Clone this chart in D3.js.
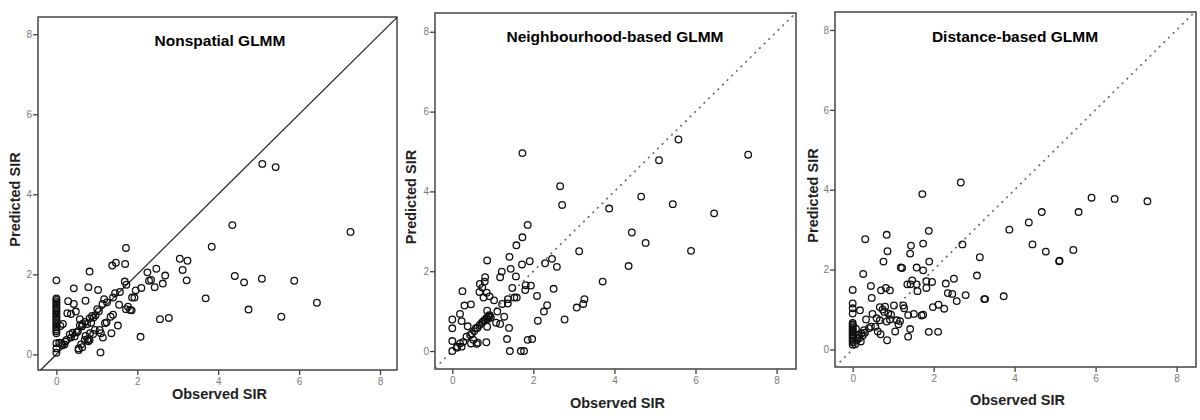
<!DOCTYPE html>
<html>
<head>
<meta charset="utf-8">
<script src="https://cdn.jsdelivr.net/npm/d3@7"></script>
<style>
  body { margin: 0; background: #fff; }
  svg { display: block; font-family: "Liberation Sans", Arial, sans-serif; }
</style>
</head>
<body>
<svg id="chart" width="1200" height="420"></svg>
<script>
// observed vs predicted SIR
const titles = ["Nonspatial GLMM", "Neighbourhood-based GLMM", "Distance-based GLMM"];
const xTicks = [0, 2, 4, 6, 8];
const yTicks = [0, 2, 4, 6, 8];
const xLabel = "Observed SIR";
const yLabel = "Predicted SIR";

const nonspatial = [
  [5.09,4.76],[5.42,4.68],[4.35,3.23],[7.27,3.06],[3.84,2.69],[1.72,2.66],[1.38,2.22],[1.47,2.29],
  [1.70,2.26],[3.05,2.39],[3.24,2.34],[3.12,2.11],[2.47,2.14],[2.25,2.05],[2.69,1.97],[0.82,2.07],
  [0,1.85],[1.69,1.82],[3.22,1.85],[2.29,1.84],[2.34,1.86],[4.41,1.96],[5.08,1.89],[4.64,1.80],
  [5.88,1.84],[2.63,1.77],[2.43,1.68],[2.10,1.66],[1.73,1.74],[0.79,1.68],[0.43,1.65],[1.03,1.61],
  [1.96,1.60],[1.57,1.56],[1.45,1.53],[1.40,1.42],[1.18,1.38],[1.87,1.42],[1.93,1.42],[3.69,1.40],
  [0.29,1.33],[0.72,1.34],[0.43,1.26],[1.14,1.26],[1.55,1.24],[1.77,1.19],[1.82,1.11],[1.72,1.13],
  [1.86,1.10],[6.44,1.29],[4.75,1.12],[1.01,1.13],[0.48,1.07],[0.27,1.03],[0.36,1.01],[5.56,0.94],
  [2.78,0.91],[2.56,0.88],[1.40,0.99],[1.34,0.94],[0.88,0.96],[0.82,0.90],[0.71,0.81],[0.58,0.88],
  [0.64,0.76],[0.58,0.73],[0.63,0.70],[0.76,0.76],[0.86,0.79],[1.20,0.78],[1.24,0.80],[1.52,0.72],
  [0.16,0.76],[0.10,0.71],[0.53,0.58],[0.40,0.54],[0.33,0.50],[0.95,0.61],[1.07,0.61],[1.10,0.53],
  [0.83,0.53],[0.91,0.51],[0.72,0.46],[0.77,0.38],[0.82,0.36],[0.79,0.33],[1.15,0.42],[1.36,0.53],
  [0.70,0.36],[2.08,0.44],[0.36,0.42],[0.25,0.36],[0.22,0.32],[0.12,0.28],[0.15,0.23],[0.07,0.29],
  [0.61,0.25],[0.55,0.15],[0.55,0.11],[0.64,0.18],[1.09,0.05],[0,0.28],[0,0.15],[0,0.04],
  [0.45,0.45],[0.50,0.55],[0.92,0.92],[0.97,0.98],[1.05,1.08],[1.25,1.30],[0.20,0.25],
  [0,0.53],[0,0.58],[0,0.62],[0,0.67],[0,0.71],[0,0.76],[0,0.80],[0,0.85],[0,0.89],[0,0.94],
  [0,0.99],[0,1.03],[0,1.08],[0,1.12],[0,1.17],[0,1.22],[0,1.27],[0,1.31],[0,1.36],[0,1.40]
];

const neighbourhood = [
  [5.58,5.30],[1.73,4.96],[7.30,4.92],[5.10,4.78],[2.66,4.13],[2.71,3.66],[4.66,3.87],[5.44,3.68],
  [6.46,3.45],[3.87,3.57],[1.86,3.16],[4.43,2.97],[1.73,2.85],[4.77,2.71],[1.58,2.65],[5.89,2.51],
  [3.13,2.50],[4.35,2.13],[0.86,2.27],[1.41,2.36],[2.46,2.31],[2.29,2.20],[1.91,2.25],[1.72,2.17],
  [2.58,2.11],[1.44,2.06],[1.22,1.99],[1.18,1.85],[1.57,1.87],[0.81,1.85],[0.80,1.74],[0.68,1.68],
  [1.81,1.65],[1.94,1.64],[3.71,1.74],[2.50,1.56],[1.48,1.58],[1.80,1.53],[0.74,1.59],[0.67,1.48],
  [0.25,1.50],[0.85,1.46],[0.92,1.37],[0.77,1.34],[1.53,1.34],[1.59,1.34],[1.37,1.30],[2.09,1.38],
  [1.03,1.27],[3.26,1.30],[3.23,1.18],[3.07,1.09],[2.34,1.15],[2.26,0.99],[1.23,1.18],[1.37,1.19],
  [0.30,1.14],[0.46,1.17],[1.11,0.99],[0.86,1.01],[0.19,0.93],[1.28,0.86],[0.91,0.90],[0,0.79],
  [0.23,0.75],[0.38,0.62],[2.11,0.76],[2.77,0.79],[1.18,0.68],[1.08,0.71],[1.40,0.58],[0,0.57],
  [0.86,0.61],[0.58,0.57],[0.67,0.65],[0.75,0.73],[0.81,0.78],[0.89,0.86],[0.93,0.88],[0.48,0.44],
  [0.44,0.40],[0.35,0.36],[0.27,0.23],[0.19,0.19],[0.12,0.11],[0.52,0.28],[0.60,0.18],[0,0.25],
  [1.35,0.30],[1.86,0.28],[1.97,0.30],[0.84,0.22],[0.63,0.21],[0.46,0.19],[0,0],[1.42,0],
  [1.69,0],[1.77,0],[0.23,0.11],[0.11,0.08],[0.72,0.70],[0.78,0.76],[0.84,0.82],[0.88,0.80],
  [0.95,0.84],[0.62,0.58],[0.54,0.50]
];

const distance = [
  [2.67,4.18],[1.72,3.89],[5.90,3.80],[6.47,3.77],[7.28,3.71],[4.67,3.44],[5.58,3.44],[4.35,3.18],
  [3.87,3.00],[1.88,2.97],[0.84,2.87],[0.31,2.76],[2.71,2.63],[1.74,2.65],[1.44,2.60],[4.44,2.63],
  [1.42,2.40],[0.86,2.46],[4.77,2.45],[5.45,2.49],[5.10,2.21],[5.11,2.22],[3.14,2.31],[0.76,2.20],
  [1.89,2.20],[1.19,2.05],[1.22,2.04],[1.58,2.05],[1.74,1.98],[0.26,1.89],[3.07,1.85],[2.50,1.77],
  [1.47,1.73],[1.82,1.71],[1.96,1.69],[2.30,1.65],[1.35,1.63],[1.43,1.63],[1.58,1.63],[0.45,1.59],
  [0.82,1.54],[0.70,1.48],[0.92,1.48],[1.82,1.54],[1.60,1.46],[0,1.49],[2.35,1.41],[2.46,1.39],
  [2.79,1.36],[3.73,1.33],[3.25,1.26],[3.27,1.26],[2.57,1.21],[0.47,1.29],[0,1.15],[0,1.03],
  [0,0.90],[0.18,0.98],[1.98,1.06],[2.12,1.12],[2.26,1.02],[1.02,1.10],[1.25,1.10],[1.27,1.03],
  [0.67,1.06],[0.80,1.07],[0.74,1.00],[0.78,0.94],[0.88,0.90],[0.95,0.87],[0.49,0.89],[1.37,0.86],
  [1.51,0.89],[1.74,0.87],[1.70,0.85],[0.33,0.75],[0.59,0.78],[0.67,0.73],[0.84,0.70],[0.92,0.75],
  [1.09,0.73],[1.17,0.71],[1.13,0.63],[0.45,0.57],[0.40,0.53],[0.56,0.57],[0.62,0.45],[0.69,0.38],
  [1.05,0.45],[1.42,0.51],[1.37,0.32],[1.88,0.44],[2.11,0.44],[0.85,0.23],[0.28,0.48],[0.22,0.40],
  [0.14,0.36],[0.16,0.28],[0.10,0.23],[0.06,0.13],[0.08,0.52],[0.12,0.30],[0.20,0.20],[0.25,0.35],
  [0.30,0.42],
  [0,0.12],[0,0.18],[0,0.22],[0,0.27],[0,0.31],[0,0.35],[0,0.38],[0,0.42],[0,0.46],[0,0.50],
  [0,0.54],[0,0.58],[0,0.62],[0,0.66]
];

const series = [nonspatial, neighbourhood, distance];

// panel frames (pixels) and the data window each one shows
const panels = [
  { left: 38,  right: 397,  top: 17, bottom: 370, xDom: [-0.455, 8.42], yDom: [-0.39, 8.43], dash: null,
    titleX: 220, titleY: 46, xLabY: 399, yLabX: 20 },
  { left: 435, right: 796,  top: 13, bottom: 369, xDom: [-0.427, 8.48], yDom: [-0.45, 8.47], dash: "2,4.5",
    titleX: 615, titleY: 42, xLabY: 408, yLabX: 416 },
  { left: 835, right: 1196, top: 12, bottom: 367, xDom: [-0.437, 8.48], yDom: [-0.44, 8.45], dash: "2,4.5",
    titleX: 1015, titleY: 42, xLabY: 405, yLabX: 818 }
];

const svg = d3.select("#chart");

panels.forEach((p, i) => {
  const x = d3.scaleLinear().domain(p.xDom).range([p.left, p.right]);
  const y = d3.scaleLinear().domain(p.yDom).range([p.bottom, p.top]);
  const g = svg.append("g");

  // frame
  g.append("rect")
    .attr("x", p.left).attr("y", p.top)
    .attr("width", p.right - p.left).attr("height", p.bottom - p.top)
    .attr("fill", "none").attr("stroke", "#444").attr("stroke-width", 1.5);

  // axes
  const xa = g.append("g")
    .attr("transform", `translate(0,${p.bottom})`)
    .call(d3.axisBottom(x).tickValues(xTicks).tickSize(5).tickPadding(3));
  const ya = g.append("g")
    .attr("transform", `translate(${p.left},0)`)
    .call(d3.axisLeft(y).tickValues(yTicks).tickSize(5).tickPadding(1));
  [xa, ya].forEach(a => {
    a.select(".domain").remove();
    a.selectAll(".tick line").attr("stroke", "#444").attr("stroke-width", 1.3);
    a.selectAll(".tick text").attr("fill", "#7a7a7a").attr("font-size", 10)
      .attr("font-family", "Liberation Sans, Arial, sans-serif");
  });

  // y = x reference line
  const lo = Math.max(p.xDom[0], p.yDom[0]);
  const hi = Math.min(p.xDom[1], p.yDom[1]);
  g.append("line")
    .attr("x1", x(lo)).attr("y1", y(lo))
    .attr("x2", x(hi)).attr("y2", y(hi))
    .attr("stroke", p.dash ? "#666" : "#222")
    .attr("stroke-width", p.dash ? 1.6 : 1.2)
    .attr("stroke-dasharray", p.dash);

  // points
  g.append("g").selectAll("circle")
    .data(series[i])
    .enter()
    .append("circle")
    .attr("cx", d => x(d[0]))
    .attr("cy", d => y(d[1]))
    .attr("r", 3.3)
    .attr("fill", "none")
    .attr("stroke", "#111")
    .attr("stroke-width", 1.3);

  // texts
  g.append("text")
    .attr("x", p.titleX).attr("y", p.titleY)
    .attr("text-anchor", "middle")
    .attr("font-weight", "bold").attr("font-size", 15.5).attr("fill", "#000")
    .text(titles[i]);

  g.append("text")
    .attr("x", (p.left + p.right) / 2 + 2).attr("y", p.xLabY)
    .attr("text-anchor", "middle")
    .attr("font-weight", "bold").attr("font-size", 14.5).attr("fill", "#222")
    .text(xLabel);

  g.append("text")
    .attr("transform", `translate(${p.yLabX},${(p.top + p.bottom) / 2 + 6}) rotate(-90)`)
    .attr("text-anchor", "middle")
    .attr("font-weight", "bold").attr("font-size", 14.5).attr("fill", "#222")
    .text(yLabel);
});
</script>
</body>
</html>
